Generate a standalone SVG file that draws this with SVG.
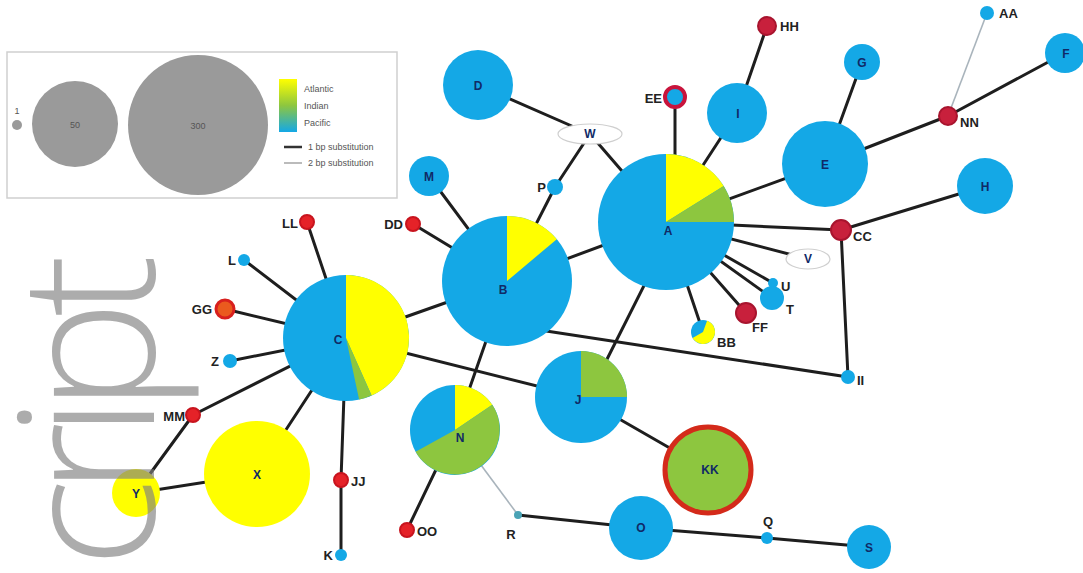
<svg xmlns="http://www.w3.org/2000/svg" width="1083" height="573" viewBox="0 0 1083 573">
<defs>
<linearGradient id="lg" x1="0" y1="0" x2="0" y2="1">
<stop offset="0" stop-color="#ffff00"/>
<stop offset="0.5" stop-color="#8dc63f"/>
<stop offset="1" stop-color="#14a8e6"/>
</linearGradient>
<style>
.bl{fill:#14a8e6}
.ye{fill:#ffff00}
.gr{fill:#8dc63f}
.rd{fill:#c8203c;stroke:#a8142e;stroke-width:2}
.rb{fill:#e52228;stroke:#c8141e;stroke-width:2}
.e1{stroke:#1e1e1e;stroke-width:3;fill:none;stroke-linecap:round}
.e2{stroke:#a9b4bc;stroke-width:1.6;fill:none}
.nl{font-family:"Liberation Sans",Arial,sans-serif;font-weight:bold;font-size:12px;fill:#102a66;text-anchor:middle}
.xl{font-family:"Liberation Sans",Arial,sans-serif;font-weight:bold;font-size:13px;fill:#222}
.lg{font-family:"Liberation Sans",Arial,sans-serif;font-size:9px;fill:#555}
.gy{fill:#9a9a9a}
</style>
</defs>
<rect width="1083" height="573" fill="#fff"/>

<g id="legend">
<rect x="7" y="52" width="390" height="146" fill="#fff" stroke="#cfcfcf" stroke-width="1.5"/>
<circle class="gy" cx="17" cy="125" r="5"/>
<text class="lg" x="17" y="114" text-anchor="middle" font-size="6">1</text>
<circle class="gy" cx="75" cy="124" r="43"/>
<text class="lg" x="75" y="128" text-anchor="middle" font-size="10" fill="#444">50</text>
<circle class="gy" cx="198" cy="125" r="70"/>
<text class="lg" x="198" y="129" text-anchor="middle" font-size="10" fill="#444">300</text>
<rect x="279" y="79" width="18" height="53" fill="url(#lg)"/>
<text class="lg" x="304" y="92">Atlantic</text>
<text class="lg" x="304" y="109">Indian</text>
<text class="lg" x="304" y="126">Pacific</text>
<line x1="284" y1="147" x2="302" y2="147" stroke="#333" stroke-width="2.5"/>
<text class="lg" x="308" y="150">1 bp substitution</text>
<line x1="284" y1="163" x2="302" y2="163" stroke="#bbb" stroke-width="2"/>
<text class="lg" x="308" y="166">2 bp substitution</text>
</g>

<g id="connectors">
<line class="e1" x1="478" y1="85" x2="590" y2="134"/>
<line class="e1" x1="590" y1="134" x2="555" y2="187"/>
<line class="e1" x1="590" y1="134" x2="666" y2="222"/>
<line class="e1" x1="675" y1="97" x2="675" y2="222"/>
<line class="e1" x1="737" y1="113" x2="666" y2="222"/>
<line class="e1" x1="767" y1="26" x2="737" y2="113"/>
<line class="e1" x1="862" y1="62" x2="825" y2="164"/>
<line class="e1" x1="825" y1="164" x2="666" y2="222"/>
<line class="e1" x1="825" y1="164" x2="948" y2="116"/>
<line class="e1" x1="948" y1="116" x2="1065" y2="53"/>
<line class="e2" x1="948" y1="116" x2="987" y2="13"/>
<line class="e1" x1="666" y1="222" x2="841" y2="230"/>
<line class="e1" x1="841" y1="230" x2="985" y2="186"/>
<line class="e1" x1="841" y1="230" x2="848" y2="377"/>
<line class="e1" x1="666" y1="222" x2="808" y2="259"/>
<line class="e1" x1="666" y1="222" x2="773" y2="283"/>
<line class="e1" x1="666" y1="222" x2="772" y2="298"/>
<line class="e1" x1="666" y1="222" x2="746" y2="313"/>
<line class="e1" x1="666" y1="222" x2="703" y2="332"/>
<line class="e1" x1="666" y1="222" x2="507" y2="281"/>
<line class="e1" x1="676" y1="222" x2="588" y2="397"/>
<line class="e1" x1="507" y1="281" x2="555" y2="187"/>
<line class="e1" x1="507" y1="281" x2="429" y2="176"/>
<line class="e1" x1="507" y1="281" x2="413" y2="224"/>
<line class="e1" x1="507" y1="281" x2="346" y2="338"/>
<line class="e1" x1="507" y1="281" x2="455" y2="430"/>
<line class="e1" x1="520" y1="327" x2="848" y2="377"/>
<line class="e1" x1="346" y1="338" x2="307" y2="222"/>
<line class="e1" x1="346" y1="338" x2="244" y2="260"/>
<line class="e1" x1="346" y1="338" x2="225" y2="309"/>
<line class="e1" x1="346" y1="338" x2="230" y2="361"/>
<line class="e1" x1="346" y1="338" x2="193" y2="415"/>
<line class="e1" x1="346" y1="338" x2="257" y2="474"/>
<line class="e1" x1="346" y1="338" x2="341" y2="480"/>
<line class="e1" x1="346" y1="338" x2="581" y2="397"/>
<line class="e1" x1="193" y1="415" x2="136" y2="493"/>
<line class="e1" x1="136" y1="493" x2="257" y2="474"/>
<line class="e1" x1="341" y1="480" x2="341" y2="555"/>
<line class="e1" x1="455" y1="430" x2="407" y2="530"/>
<line class="e2" x1="455" y1="430" x2="518" y2="515"/>
<line class="e1" x1="518" y1="515" x2="641" y2="528"/>
<line class="e1" x1="641" y1="528" x2="767" y2="538"/>
<line class="e1" x1="767" y1="538" x2="869" y2="547"/>
<line class="e1" x1="581" y1="397" x2="708" y2="470"/>
</g>

<g id="node-A">
<circle class="bl" cx="666" cy="222" r="68"/>
<path class="ye" d="M666,222 L666,154 A68,68 0 0 1 723.7,186 Z"/>
<path class="gr" d="M666,222 L723.7,186 A68,68 0 0 1 734,222 Z"/>
<text class="nl" x="668" y="235">A</text>
</g>
<g id="node-B">
<circle class="bl" cx="507" cy="281" r="65"/>
<path class="ye" d="M507,281 L507,216 A65,65 0 0 1 556.8,239.2 Z"/>
<text class="nl" x="503" y="294">B</text>
</g>
<g id="node-C">
<circle class="bl" cx="346" cy="338" r="63"/>
<path class="ye" d="M346,338 L346,275 A63,63 0 0 1 371.6,395.6 Z"/>
<path class="gr" d="M346,338 L371.6,395.6 A63,63 0 0 1 359.1,399.6 Z"/>
<text class="nl" x="338" y="344">C</text>
</g>
<g id="node-D"><circle class="bl" cx="478" cy="85" r="35"/><text class="nl" x="478" y="90">D</text></g>
<g id="node-W"><ellipse cx="590" cy="134" rx="32" ry="10" fill="#fff" stroke="#cfcfcf" stroke-width="1.2"/><text class="nl" x="590" y="138" font-size="10" fill="#333" font-weight="normal">W</text></g>
<g id="node-P"><circle class="bl" cx="555" cy="187" r="8"/><text class="xl" x="546" y="192" text-anchor="end">P</text></g>
<g id="node-EE"><circle cx="675" cy="97" r="10" fill="#14a8e6" stroke="#c8143c" stroke-width="4"/><text class="xl" x="662" y="103" text-anchor="end">EE</text></g>
<g id="node-I"><circle class="bl" cx="737" cy="113" r="30"/><text class="nl" x="738" y="118">I</text></g>
<g id="node-HH"><circle class="rd" cx="767" cy="26" r="9"/><text class="xl" x="780" y="31">HH</text></g>
<g id="node-G"><circle class="bl" cx="862" cy="62" r="18"/><text class="nl" x="862" y="67">G</text></g>
<g id="node-E"><circle class="bl" cx="825" cy="164" r="43"/><text class="nl" x="825" y="169">E</text></g>
<g id="node-AA"><circle class="bl" cx="987" cy="13" r="7"/><text class="xl" x="999" y="18">AA</text></g>
<g id="node-F"><circle class="bl" cx="1065" cy="53" r="20"/><text class="nl" x="1066" y="58">F</text></g>
<g id="node-NN"><circle class="rd" cx="948" cy="116" r="9"/><text class="xl" x="960" y="127">NN</text></g>
<g id="node-H"><circle class="bl" cx="985" cy="186" r="28"/><text class="nl" x="985" y="191">H</text></g>
<g id="node-CC"><circle class="rd" cx="841" cy="230" r="10"/><text class="xl" x="853" y="241">CC</text></g>
<g id="node-V"><ellipse cx="808" cy="259" rx="22" ry="10" fill="#fff" stroke="#cfcfcf" stroke-width="1.2"/><text class="nl" x="808" y="263" font-size="10" fill="#333" font-weight="normal">V</text></g>
<g id="node-U"><circle class="bl" cx="773" cy="283" r="5"/><text class="xl" x="781" y="291">U</text></g>
<g id="node-T"><circle class="bl" cx="772" cy="298" r="12"/><text class="xl" x="786" y="314">T</text></g>
<g id="node-FF"><circle class="rd" cx="746" cy="313" r="10"/><text class="xl" x="752" y="332">FF</text></g>
<g id="node-BB">
<circle class="bl" cx="703" cy="332" r="12"/>
<path class="ye" d="M703,332 L707.1,320.7 A12,12 0 1 1 692.6,338 Z"/>
<text class="xl" x="717" y="347">BB</text>
</g>
<g id="node-II"><circle class="bl" cx="848" cy="377" r="7"/><text class="xl" x="857" y="385">II</text></g>
<g id="node-M"><circle class="bl" cx="429" cy="176" r="20"/><text class="nl" x="429" y="181">M</text></g>
<g id="node-DD"><circle class="rb" cx="413" cy="224" r="7"/><text class="xl" x="403" y="229" text-anchor="end">DD</text></g>
<g id="node-LL"><circle class="rb" cx="307" cy="222" r="7"/><text class="xl" x="298" y="228" text-anchor="end">LL</text></g>
<g id="node-L"><circle class="bl" cx="244" cy="260" r="6"/><text class="xl" x="236" y="265" text-anchor="end">L</text></g>
<g id="node-GG"><circle cx="225" cy="309" r="9" fill="#ea5a1e" stroke="#d8201e" stroke-width="3"/><text class="xl" x="212" y="314" text-anchor="end">GG</text></g>
<g id="node-Z"><circle class="bl" cx="230" cy="361" r="7"/><text class="xl" x="219" y="366" text-anchor="end">Z</text></g>
<g id="node-MM"><circle class="rb" cx="193" cy="415" r="7"/><text class="xl" x="185" y="421" text-anchor="end">MM</text></g>
<g id="node-Y"><circle class="ye" cx="136" cy="493" r="24"/><text class="nl" x="136" y="498" fill="#333">Y</text></g>
<g id="node-X"><circle class="ye" cx="257" cy="474" r="53"/><text class="nl" x="257" y="479" fill="#333">X</text></g>
<g id="node-JJ"><circle class="rb" cx="341" cy="480" r="7"/><text class="xl" x="351" y="486">JJ</text></g>
<g id="node-K"><circle class="bl" cx="341" cy="555" r="6"/><text class="xl" x="333" y="560" text-anchor="end">K</text></g>
<g id="node-N">
<circle class="bl" cx="455" cy="430" r="45"/>
<path class="ye" d="M455,430 L455,385 A45,45 0 0 1 492.3,404.8 Z"/>
<path class="gr" d="M455,430 L492.3,404.8 A45,45 0 1 1 415.6,451.8 Z"/>
<text class="nl" x="460" y="442">N</text>
</g>
<g id="node-OO"><circle class="rb" cx="407" cy="530" r="7"/><text class="xl" x="417" y="536">OO</text></g>
<g id="node-R"><circle cx="518" cy="515" r="4" fill="#4aa3b5"/><text class="xl" x="511" y="539" text-anchor="middle" font-weight="normal" fill="#444">R</text></g>
<g id="node-J">
<circle class="bl" cx="581" cy="397" r="46"/>
<path class="gr" d="M581,397 L581,351 A46,46 0 0 1 627,397 Z"/>
<text class="nl" x="578" y="404">J</text>
</g>
<g id="node-KK"><circle cx="708" cy="470" r="43" fill="#8dc63f" stroke="#d42a1a" stroke-width="5"/><text class="nl" x="710" y="474" fill="#1a3a10">KK</text></g>
<g id="node-O"><circle class="bl" cx="641" cy="528" r="32"/><text class="nl" x="641" y="532">O</text></g>
<g id="node-Q"><circle class="bl" cx="767" cy="538" r="6"/><text class="xl" x="768" y="526" text-anchor="middle" font-weight="normal" fill="#333">Q</text></g>
<g id="node-S"><circle class="bl" cx="869" cy="547" r="22"/><text class="nl" x="869" y="552">S</text></g>

<text transform="translate(154,568) rotate(-90)" x="0" y="0" font-family="'Open Sans','Liberation Sans',sans-serif" font-weight="350" font-size="188" fill="#808080" fill-opacity="0.65" textLength="314" lengthAdjust="spacing">cript</text>
</svg>
